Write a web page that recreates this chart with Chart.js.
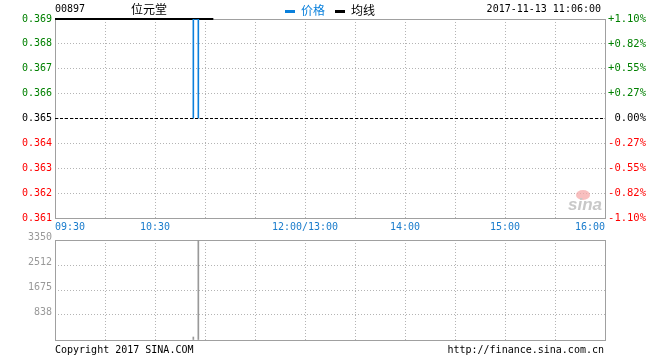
<!DOCTYPE html>
<html><head><meta charset="utf-8">
<script src="https://cdn.jsdelivr.net/npm/chart.js@4.4.0/dist/chart.umd.min.js"></script>
<style>
html,body{margin:0;padding:0;background:#fff;}
#wrap{position:relative;width:660px;height:360px;overflow:hidden;background:#fff;}
canvas{position:absolute;left:0;}
.t{position:absolute;white-space:nowrap;font-family:"DejaVu Sans Mono",monospace;font-size:10px;line-height:12px;color:#000;}
.cjk{font-family:"Noto Sans CJK SC",sans-serif;font-size:12px;line-height:16px;}
.sw{position:absolute;height:3px;width:10px;}
</style></head><body>
<div id="wrap">
<canvas id="main" width="660" height="240" style="top:0;width:660px;height:240px"></canvas>
<canvas id="vol" width="660" height="130" style="top:230px;width:660px;height:130px"></canvas>
<div class="t" style="left:55px;top:3px">00897</div>
<div class="t cjk" style="left:131px;top:1px">位元堂</div>
<div class="sw" style="left:285px;top:10px;background:#0a80dc"></div>
<div class="t cjk" style="left:301px;top:2px;color:#0a80dc">价格</div>
<div class="sw" style="left:335px;top:10px;background:#000"></div>
<div class="t cjk" style="left:351px;top:2px">均线</div>
<div class="t" style="right:59px;top:3px">2017-11-13 11:06:00</div>
<div class="t" style="left:55px;top:344px">Copyright 2017 SINA.COM</div>
<div class="t" style="right:56px;top:344px">http://finance.sina.com.cn</div>
</div>
<script>
// ---- data ----
const timeTicks = [0,30,60,90,120,150,180,210,240,270,300,330]; // minutes from 09:30 (lunch removed)
const timeLabels = ['09:30','','10:30','','','12:00/13:00','','14:00','','15:00','','16:00'];
const priceTicks = [0.361,0.362,0.363,0.364,0.365,0.366,0.367,0.368,0.369];
const pctLabels = ['-1.10%','-0.82%','-0.55%','-0.27%','0.00%','+0.27%','+0.55%','+0.82%','+1.10%'];
const prevClose = 0.365;
const priceMinutes = [83,83,86,86];
const priceValues = [0.365,0.369,0.369,0.365];
const avgMinutes = [0,95];
const avgValues = [0.369,0.369];
const volMinutes = [83,86];
const volValues = [100,3350];
const volTicks = [0,838,1675,2512,3350];
const volLabels = ['','838','1675','2512','3350'];

const MONO = '"DejaVu Sans Mono", monospace';
const GRID = '#b4b4b4';
const pts = (xs, ys) => xs.map((x,i)=>({x:x,y:ys[i]}));

const framePlugin = {
  id:'frame',
  beforeDatasetsDraw(chart){
    const {ctx, chartArea:a} = chart;
    ctx.save();
    ctx.strokeStyle = '#a0a0a0'; ctx.lineWidth = 1;
    ctx.strokeRect(Math.round(a.left)+0.5, Math.round(a.top)+0.5, Math.round(a.right-a.left), Math.round(a.bottom-a.top));
    if (chart.canvas.id === 'main') {
      ctx.fillStyle = 'rgba(245,170,170,0.75)';
      ctx.beginPath(); ctx.ellipse(a.right-22, a.bottom-23, 7, 5, 0, 0, Math.PI*2); ctx.fill();
      ctx.fillStyle = '#c8c8c8';
      ctx.font = 'italic bold 17px "Liberation Sans", sans-serif';
      ctx.textAlign = 'center'; ctx.textBaseline = 'middle';
      ctx.fillText('sina', a.right-20, a.bottom-13);
    }
    ctx.restore();
  }
};

const priceColor = (ctx) => {
  const v = ctx.tick ? ctx.tick.value : prevClose;
  if (v > prevClose + 1e-6) return '#008000';
  if (v < prevClose - 1e-6) return '#ff0000';
  return '#000000';
};

const xGrid = {color:GRID, drawTicks:false, borderDash:[1,2]};
const xBorder = {display:false, dash:[1,2]};

new Chart(document.getElementById('main'), {
  type:'line',
  data:{datasets:[
    {label:'价格', data:pts(priceMinutes, priceValues), borderColor:'#0a80dc', borderWidth:1.6, pointRadius:0, fill:false, order:1, yAxisID:'y'},
    {label:'均线', data:pts(avgMinutes, avgValues), borderColor:'#000', borderWidth:2, pointRadius:0, fill:false, order:2, clip:3, yAxisID:'y'},
    {label:'prev', data:pts([timeTicks[0], timeTicks[timeTicks.length-1]], [prevClose, prevClose]), borderColor:'#000', borderWidth:1.2, borderDash:[3,2], pointRadius:0, fill:false, order:0, yAxisID:'y'}
  ]},
  options:{
    responsive:false, animation:false, devicePixelRatio:1,
    layout:{padding:{top:19, right:14, left:0, bottom:0}},
    plugins:{legend:{display:false}, tooltip:{enabled:false}},
    scales:{
      x:{type:'linear', min:0, max:330,
        afterBuildTicks:(s)=>{ s.ticks = timeTicks.map(v=>({value:v})); },
        afterFit:(s)=>{ s.height = 22; },
        ticks:{callback:(v,i)=>timeLabels[i], color:'#1a7ccc', font:{family:MONO, size:10}, align:'inner', maxRotation:0, autoSkip:false, padding:3},
        grid:xGrid, border:xBorder},
      y:{position:'left', min:priceTicks[0], max:priceTicks[priceTicks.length-1],
        afterBuildTicks:(s)=>{ s.ticks = priceTicks.map(v=>({value:v})); },
        afterFit:(s)=>{ s.width = 55; },
        ticks:{callback:(v)=>Number(v).toFixed(3), color:priceColor, font:{family:MONO, size:10}, padding:3},
        grid:{color:GRID, drawTicks:false, borderDash:[1,2]}, border:{display:false, dash:[1,2]}},
      yR:{position:'right', min:priceTicks[0], max:priceTicks[priceTicks.length-1],
        afterBuildTicks:(s)=>{ s.ticks = priceTicks.map(v=>({value:v})); },
        afterFit:(s)=>{ s.width = 41; },
        ticks:{callback:(v,i)=>pctLabels[i], color:priceColor, font:{family:MONO, size:10.5}, padding:2, crossAlign:'far'},
        grid:{display:false, drawTicks:false}, border:{display:false}}
    }
  },
  plugins:[framePlugin]
});

new Chart(document.getElementById('vol'), {
  type:'bar',
  data:{datasets:[
    {label:'成交量', data:pts(volMinutes, volValues), backgroundColor:'#999', barThickness:1, borderWidth:0}
  ]},
  options:{
    responsive:false, animation:false, devicePixelRatio:1,
    layout:{padding:{top:10, right:55, left:0, bottom:0}},
    plugins:{legend:{display:false}, tooltip:{enabled:false}},
    scales:{
      x:{type:'linear', min:0, max:330, offset:false,
        afterBuildTicks:(s)=>{ s.ticks = timeTicks.map(v=>({value:v})); },
        afterFit:(s)=>{ s.height = 20; },
        ticks:{display:false},
        grid:{color:GRID, drawTicks:false, borderDash:[1,2], offset:false}, border:{display:false, dash:[1,2]}},
      y:{position:'left', min:0, max:volTicks[volTicks.length-1],
        afterBuildTicks:(s)=>{ s.ticks = volTicks.map(v=>({value:v})); },
        afterFit:(s)=>{ s.width = 55; },
        ticks:{callback:(v,i)=>[volLabels[i], ''], color:'#999', font:{family:MONO, size:10, lineHeight:0.6}, padding:3},
        grid:{color:GRID, drawTicks:false, borderDash:[1,2]}, border:{display:false, dash:[1,2]}}
    }
  },
  plugins:[framePlugin]
});
</script>
</body></html>
